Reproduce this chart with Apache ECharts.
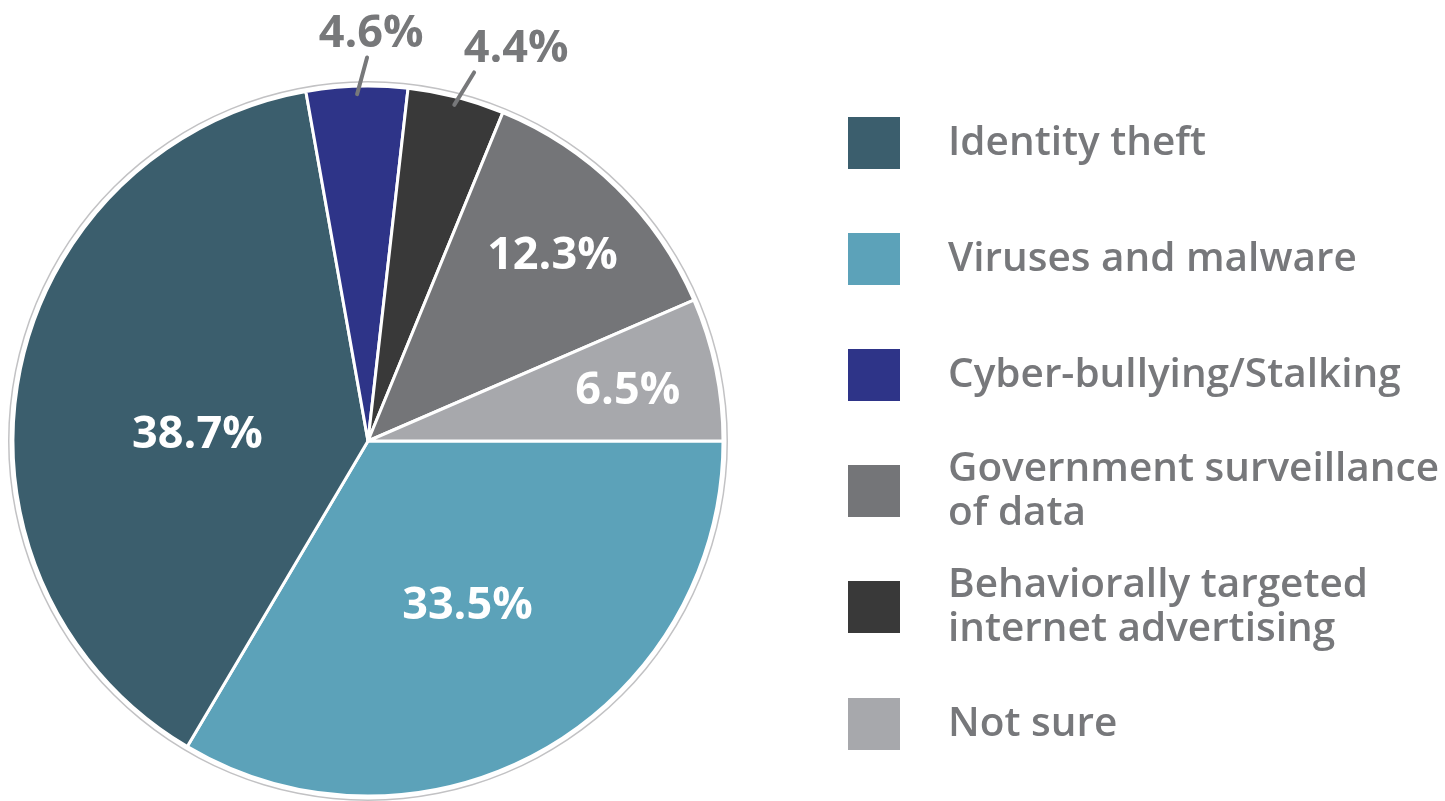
<!DOCTYPE html>
<html>
<head>
<meta charset="utf-8">
<script src="https://cdn.jsdelivr.net/npm/echarts@6/dist/echarts.min.js"></script>
<style>
html,body{margin:0;padding:0;background:#fff}
#chart{width:1445px;height:801px}
</style>
</head>
<body>
<div id="chart"></div>
<script>
// slices, clockwise from 3 o'clock
var categories = ['Viruses and malware', 'Identity theft', 'Cyber-bullying/Stalking',
  'Behaviorally targeted\ninternet advertising', 'Government surveillance\nof data', 'Not sure']
var shares = [33.5, 38.7, 4.6, 4.4, 12.3, 6.5]
var colors = ['#5ca2b9', '#3b5e6d', '#2e3488', '#393939', '#747578', '#a7a8ac']
// legend order as printed on the right
var legendOrder = ['Identity theft', 'Viruses and malware', 'Cyber-bullying/Stalking',
  'Government surveillance\nof data', 'Behaviorally targeted\ninternet advertising', 'Not sure']
var outerIdx = [2, 3]   // small slices get the label outside

var CX = 368, CY = 441, R = 355
var insideOffset = { 0: [10, 8], 1: [7, 26], 4: [58, -56], 5: [83, -13] }
var outerDx = { 2: 4, 3: 42 }

var total = shares.reduce(function (a, b) { return a + b }, 0)
function midAngle(i) {
  var s = 0
  for (var k = 0; k < i; k++) s += shares[k]
  return (s + shares[i] / 2) / total * Math.PI * 2
}

var font = '"Open Sans", "DejaVu Sans", sans-serif'
var data = [], overlay = []
for (var i = 0; i < categories.length; i++) {
  var inside = outerIdx.indexOf(i) < 0
  data.push({
    name: categories[i], value: shares[i], itemStyle: { color: colors[i] },
    label: inside ? { show: true, position: 'inside', offset: insideOffset[i] } : { show: false }
  })
  // same slices again, see-through, only to carry the outside labels above the fills
  overlay.push({
    name: categories[i], value: shares[i],
    label: { show: !inside },
    labelLine: { show: !inside }
  })
}

var legends = []
for (var j = 0; j < legendOrder.length; j++) {
  var lines = legendOrder[j].split('\n').length
  var c = 142 + j * 116.2
  legends.push({
    data: [legendOrder[j]],
    left: 846,
    top: Math.round(c - Math.max(27, lines * 22)),
    padding: 0,
    orient: 'vertical',
    icon: 'rect',
    itemWidth: 54,
    itemHeight: 54,
    selectedMode: false,
    textStyle: {
      color: '#77787b', fontSize: 40.5, fontWeight: 600, fontFamily: font,
      lineHeight: 44, padding: [0, 0, 0, 42]
    }
  })
}

var chart = echarts.init(document.getElementById('chart'))
chart.setOption({
  animation: false,
  backgroundColor: '#fff',
  legend: legends,
  series: [
    { // thin outer ring
      type: 'pie',
      silent: true,
      center: [CX, CY],
      radius: [R + 3.5, R + 5],
      label: { show: false },
      labelLine: { show: false },
      itemStyle: { color: '#c2c2c4' },
      data: [{ value: 1, name: '' }]
    },
    {
      type: 'pie',
      center: [CX, CY],
      radius: [0, R],
      startAngle: 0,
      clockwise: true,
      avoidLabelOverlap: false,
      silent: true,
      itemStyle: { borderColor: '#fff', borderWidth: 3 },
      label: {
        formatter: '{c}%',
        color: '#fff',
        fontSize: 45,
        fontWeight: 'bold',
        fontFamily: font
      },
      labelLine: { show: false },
      data: data
    },
    {
      type: 'pie',
      z: 5,
      center: [CX, CY],
      radius: [0, R],
      startAngle: 0,
      clockwise: true,
      avoidLabelOverlap: false,
      silent: true,
      legendHoverLink: false,
      itemStyle: { color: 'rgba(0,0,0,0)', borderWidth: 0 },
      label: {
        position: 'outside',
        formatter: '{c}%',
        color: '#77787a',
        fontSize: 45,
        fontWeight: 'bold',
        fontFamily: font
      },
      labelLine: { length: 30, length2: 0, lineStyle: { color: '#77787a', width: 4, cap: 'round' } },
      labelLayout: function (p) {
        var i = p.dataIndex
        if (outerIdx.indexOf(i) < 0) return {}
        var a = midAngle(i)
        var s = [CX + (R - 8) * Math.cos(a), CY + (R - 8) * Math.sin(a)]
        var t = a + 17 * Math.PI / 180
        var e = [s[0] + 38 * Math.cos(t), s[1] + 38 * Math.sin(t)]
        return {
          x: e[0] + outerDx[i],
          y: e[1] - 23,
          align: 'center',
          verticalAlign: 'middle',
          labelLinePoints: [s, e, e]
        }
      },
      data: overlay
    }
  ]
})
</script>
</body>
</html>
